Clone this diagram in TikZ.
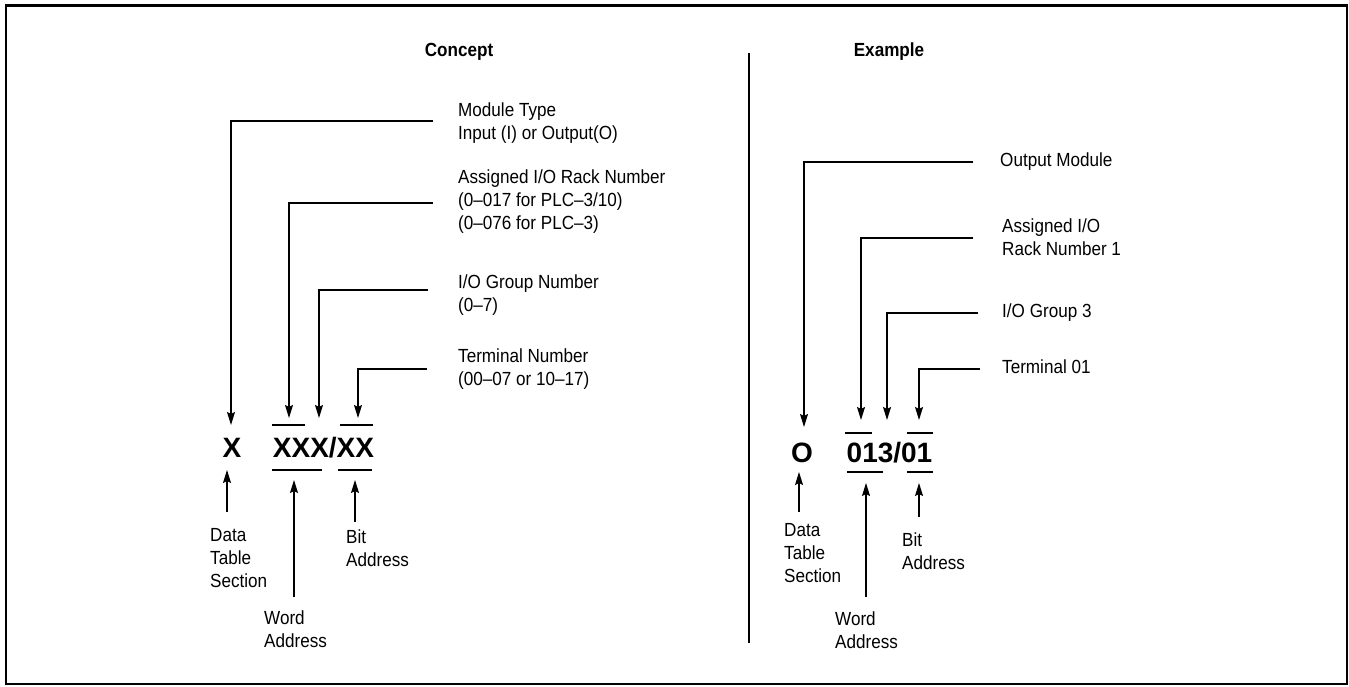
\documentclass[tikz,border=0pt]{standalone}
\usepackage{fontspec}
\setmainfont[FakeStretch=0.9]{Liberation Sans}
\newfontfamily\addrfont{Liberation Sans}
\usetikzlibrary{arrows.meta}

\tikzset{
  lbl/.style={anchor=west, inner sep=0pt, align=left,
              font=\fontsize{19}{23}\selectfont},
  head/.style={inner sep=0pt, font=\fontsize{19}{23}\selectfont\bfseries},
  addr/.style={anchor=base, inner sep=0pt, font=\addrfont\fontsize{28}{30}\selectfont\bfseries},
  bar/.style={line width=1.2pt},
  lead/.style={->, line width=1.2pt},
}

\begin{document}
\begin{tikzpicture}[x=1pt,y=-1pt,>={Stealth[length=13pt,width=8pt,inset=2pt]}]
  \useasboundingbox (0,0) rectangle (1349,687);
  \draw[line width=2.6pt] (6,5.5) rectangle (1347,684);

  % headings and divider
  \node[head] (concept) at (459,52) {Concept};
  \node[head] (example) at (889,52) {Example};
  \draw[bar] (749,53) -- (749,643);

  % ---- concept side ----
  \node[addr] (charX) at (232,457) {X};
  \node[addr] (addrX) at (323.5,457) {XXX/XX};
  \draw[bar] (272,425) -- (305,425)  (340,425) -- (373,425);
  \draw[bar] (272,470) -- (322,470)  (338,470) -- (372,470);

  \node[lbl] (modType) at (458,123) {Module Type\\Input (I) or Output(O)};
  \node[lbl] (rackNum) at (458,202) {Assigned I/O Rack Number\\(0--017 for PLC--3/10)\\(0--076 for PLC--3)};
  \node[lbl] (grpNum)  at (458,295) {I/O Group Number\\(0--7)};
  \node[lbl] (termNum) at (458,369) {Terminal Number\\(00--07 or 10--17)};

  \coordinate (modA)  at (433,121);  \coordinate (modB)  at (231,425);
  \coordinate (rackA) at (433,203);  \coordinate (rackB) at (289,418);
  \coordinate (grpA)  at (428,290);  \coordinate (grpB)  at (319,418);
  \coordinate (termA) at (427,369);  \coordinate (termB) at (358,418);
  \draw[lead] (modA) -| (modB);
  \draw[lead] (rackA) -| (rackB);
  \draw[lead] (grpA) -| (grpB);
  \draw[lead] (termA) -| (termB);

  \node[lbl] (dtsL)  at (210,558) {Data\\Table\\Section};
  \node[lbl] (wordL) at (264,629) {Word\\Address};
  \node[lbl] (bitL)  at (346,548) {Bit\\Address};
  \coordinate (dtsLA)  at (227,512);  \coordinate (dtsLB)  at (227,470);
  \coordinate (wordLA) at (294,597);  \coordinate (wordLB) at (294,480);
  \coordinate (bitLA)  at (355,522);  \coordinate (bitLB)  at (355,480);
  \draw[lead] (dtsLA) -- (dtsLB);
  \draw[lead] (wordLA) -- (wordLB);
  \draw[lead] (bitLA) -- (bitLB);

  % ---- example side ----
  \node[addr] (charO) at (802,462) {O};
  \node[addr] (addrO) at (889.5,462) {013/01};
  \draw[bar] (845,433) -- (872,433)  (907,433) -- (933,433);
  \draw[bar] (847,472) -- (883,472)  (907,472) -- (933,472);

  \node[lbl] (outMod)   at (1000,162) {Output Module};
  \node[lbl] (rackOne)  at (1002,237) {Assigned I/O\\Rack Number 1};
  \node[lbl] (grpThree) at (1002,313) {I/O Group 3};
  \node[lbl] (termOne)  at (1002,367) {Terminal 01};

  \coordinate (outA)   at (973,162);  \coordinate (outB)   at (804,427);
  \coordinate (rack1A) at (973,238);  \coordinate (rack1B) at (861,420);
  \coordinate (grp3A)  at (978,313);  \coordinate (grp3B)  at (887,420);
  \coordinate (term1A) at (980,369);  \coordinate (term1B) at (919,420);
  \draw[lead] (outA) -| (outB);
  \draw[lead] (rack1A) -| (rack1B);
  \draw[lead] (grp3A) -| (grp3B);
  \draw[lead] (term1A) -| (term1B);

  \node[lbl] (dtsR)  at (784,553) {Data\\Table\\Section};
  \node[lbl] (wordR) at (835,630) {Word\\Address};
  \node[lbl] (bitR)  at (902,551) {Bit\\Address};
  \coordinate (dtsRA)  at (799,512);  \coordinate (dtsRB)  at (799,472);
  \coordinate (wordRA) at (866,597);  \coordinate (wordRB) at (866,483);
  \coordinate (bitRA)  at (919,517);  \coordinate (bitRB)  at (919,483);
  \draw[lead] (dtsRA) -- (dtsRB);
  \draw[lead] (wordRA) -- (wordRB);
  \draw[lead] (bitRA) -- (bitRB);
\end{tikzpicture}
\end{document}
